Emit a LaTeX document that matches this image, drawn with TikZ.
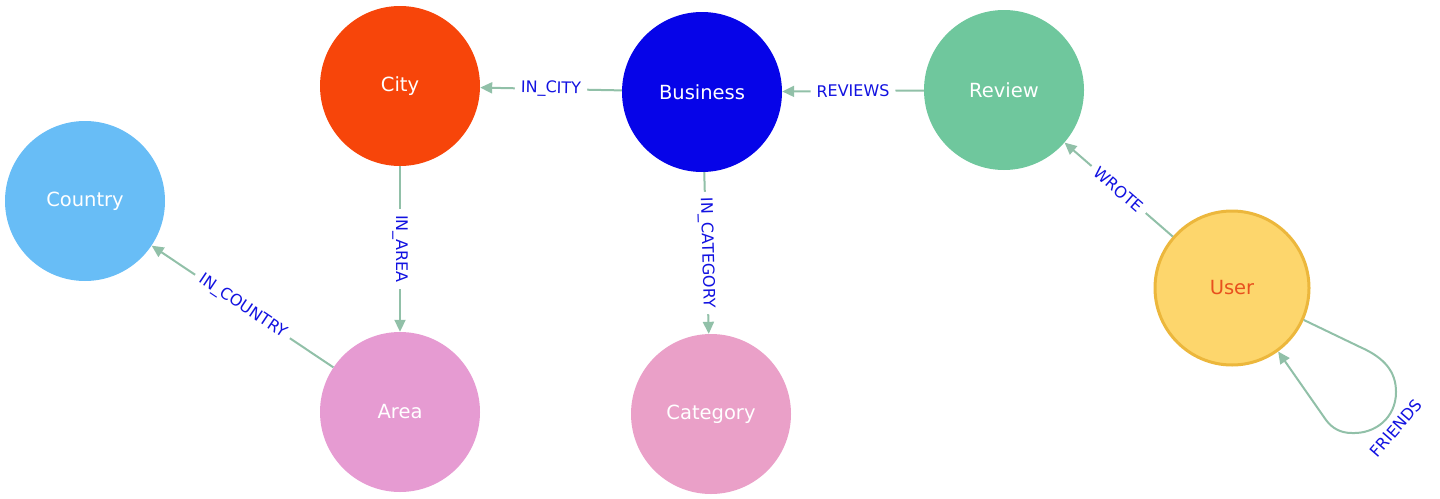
\documentclass[tikz,border=0pt]{standalone}
\usepackage{fontspec}
\setmainfont{DejaVu Sans}
\usepackage{xcolor}
\usetikzlibrary{arrows.meta}

\definecolor{countryblue}{RGB}{104,189,246}
\definecolor{cityred}{RGB}{247,69,10}
\definecolor{bizblue}{RGB}{6,4,232}
\definecolor{reviewgreen}{RGB}{111,199,157}
\definecolor{useryellow}{RGB}{253,214,108}
\definecolor{userrim}{RGB}{236,183,60}
\definecolor{usertext}{RGB}{232,80,30}
\definecolor{areapink}{RGB}{230,155,210}
\definecolor{catpink}{RGB}{234,160,200}
\definecolor{relline}{RGB}{145,192,168}
\definecolor{relblue}{RGB}{18,18,225}

\begin{document}
\begin{tikzpicture}[x=1pt, y=-1pt,
  entity/.style={circle, minimum size=160pt, inner sep=0pt, text=white,
                 font=\fontsize{19.5}{22}\selectfont},
  rel/.style={draw=relline, line width=2pt, -{Triangle[length=12pt, width=11pt]}},
  rellabel/.style={midway, sloped, fill=white, text=relblue, inner xsep=6pt,
                   inner ysep=2pt, font=\fontsize{16}{18}\selectfont}]
  \useasboundingbox (0,0) rectangle (1440,498);
  % entities
  \node[entity, fill=countryblue] (country) at (85,201) {Country};
  \node[entity, fill=cityred] (city) at (400,86) {City};
  \node[entity, fill=bizblue] (business) at (702,92) {Business};
  \node[entity, fill=reviewgreen] (review) at (1004,90) {Review};
  \node[entity, fill=useryellow, draw=userrim, line width=3pt, minimum size=154pt,
        text=usertext] (user) at (1232,288) {User};
  \node[entity, fill=areapink] (area) at (400,412) {Area};
  \node[entity, fill=catpink] (category) at (711,414) {Category};
  % relationships
  \draw[rel] (business) -- (city) node[rellabel] {IN\_CITY};
  \draw[rel] (review) -- (business) node[rellabel] {REVIEWS};
  \draw[rel] (city) -- (area) node[rellabel] {IN\_AREA};
  \draw[rel] (business) -- (category) node[rellabel] {IN\_CATEGORY};
  \draw[rel] (area) -- (country) node[rellabel] {IN\_COUNTRY};
  \draw[rel] (user) -- (review) node[rellabel] {WROTE};
  % self loop
  \draw[rel] (user.-24) -- (1360,347) .. controls (1385,358) and (1396,372) .. (1396,392)
        .. controls (1396,418) and (1375,434) .. (1352,433)
        .. controls (1340,433) and (1332,428) .. (1326,420) -- (user.-54);
  \node[text=relblue, rotate=49, font=\fontsize{16}{18}\selectfont] (friends) at (1396,428) {FRIENDS};
\end{tikzpicture}
\end{document}
